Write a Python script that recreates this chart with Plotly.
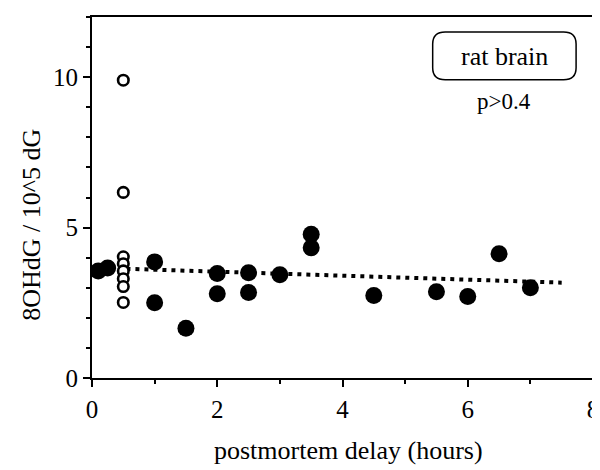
import plotly.graph_objects as go

# Filled circles (data points)
filled_x = [0.1, 0.25, 1.0, 1.0, 1.5, 2.0, 2.0, 2.5, 2.5, 3.0, 3.5, 3.5, 4.5, 5.5, 6.0, 6.5, 7.0]
filled_y = [3.56, 3.66, 3.86, 2.5, 1.65, 3.47, 2.8, 3.5, 2.84, 3.43, 4.78, 4.33, 2.74, 2.87, 2.71, 4.13, 3.0]

# Open circles at 0.5 h
open_x = [0.5, 0.5, 0.5, 0.5, 0.5, 0.5, 0.5, 0.5]
open_y = [9.9, 6.17, 4.03, 3.8, 3.56, 3.3, 3.04, 2.51]

# Regression line endpoints
trend_x = [0.55, 7.5]
trend_y = [3.63, 3.17]

x_ticks = [0, 2, 4, 6, 8]
y_ticks = [0, 5, 10]

FONT = "Liberation Serif, Times New Roman, serif"

fig = go.Figure()
fig.add_trace(go.Scatter(x=trend_x, y=trend_y, mode="lines",
                         line=dict(color="black", width=4, dash="4px,5px"),
                         hoverinfo="skip", showlegend=False))
fig.add_trace(go.Scatter(x=filled_x, y=filled_y, mode="markers",
                         marker=dict(size=17, color="black", line=dict(width=0)),
                         showlegend=False))
fig.add_trace(go.Scatter(x=open_x, y=open_y, mode="markers",
                         marker=dict(size=10.5, color="white", line=dict(color="black", width=2.6)),
                         showlegend=False))

# rounded box around "rat brain"
x0, x1, y0, y1 = 5.44, 7.73, 9.91, 11.5
rx, ry = 0.2, 0.4
path = (f"M {x0+rx},{y0} L {x1-rx},{y0} Q {x1},{y0} {x1},{y0+ry} "
        f"L {x1},{y1-ry} Q {x1},{y1} {x1-rx},{y1} L {x0+rx},{y1} "
        f"Q {x0},{y1} {x0},{y1-ry} L {x0},{y0+ry} Q {x0},{y0} {x0+rx},{y0} Z")
fig.add_shape(type="path", path=path, xref="x", yref="y",
              line=dict(color="black", width=1.5))

fig.add_annotation(x=6.585, y=10.7, xref="x", yref="y", text="rat brain",
                   showarrow=False, font=dict(family=FONT, size=26, color="black"))
fig.add_annotation(x=6.585, y=9.2, xref="x", yref="y", text="p>0.4",
                   showarrow=False, font=dict(family=FONT, size=23, color="black"))

fig.add_annotation(x=-0.12, y=0.424, xref="paper", yref="paper",
                   text="8OHdG / 10^5 dG", textangle=-90, showarrow=False,
                   xanchor="center", yanchor="middle",
                   font=dict(family=FONT, size=26, color="black"))
fig.add_annotation(x=0.512, y=-0.202, xref="paper", yref="paper",
                   text="postmortem delay (hours)", showarrow=False,
                   xanchor="center", yanchor="middle",
                   font=dict(family=FONT, size=26, color="black"))

fig.update_xaxes(range=[0, 8], tickvals=x_ticks, ticktext=[str(v) for v in x_ticks],
                 ticks="outside", ticklen=7, tickwidth=2, tickcolor="black",
                 minor=dict(dtick=1, ticks="outside", ticklen=4, tickwidth=1.5, tickcolor="black"),
                 showline=True, linecolor="black", linewidth=2, mirror=True,
                 showgrid=False, zeroline=False, ticklabelstandoff=1, automargin=False,
                 tickfont=dict(family=FONT, size=25, color="black"))
fig.update_yaxes(range=[0, 12], tickvals=y_ticks, ticktext=[str(v) for v in y_ticks],
                 ticks="outside", ticklen=7, tickwidth=2, tickcolor="black",
                 minor=dict(dtick=1, ticks="outside", ticklen=4, tickwidth=1.5, tickcolor="black"),
                 showline=True, linecolor="black", linewidth=2, mirror=True,
                 showgrid=False, zeroline=False, automargin=False,
                 tickfont=dict(family=FONT, size=25, color="black"))

# page body has an 8px margin, so the figure is sized to fill the remaining window
fig.update_layout(width=592, height=462,
                  margin=dict(l=84, r=7, t=9, b=92),
                  paper_bgcolor="white", plot_bgcolor="white",
                  showlegend=False)

fig.write_html("out.html")
